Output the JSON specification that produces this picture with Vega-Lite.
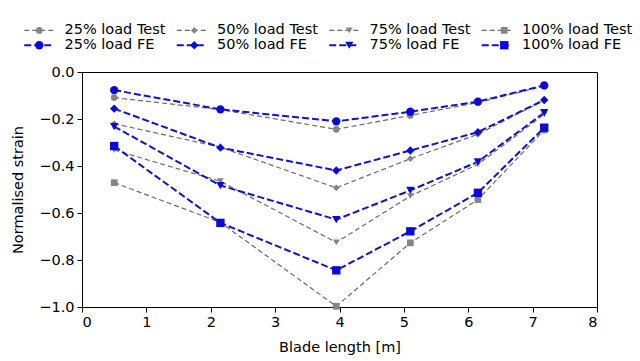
{
  "$schema": "https://vega.github.io/schema/vega-lite/v6.json",
  "width": 515,
  "height": 235,
  "autosize": {"type": "none"},
  "padding": {"left": 82, "top": 72, "right": 43, "bottom": 54},
  "background": "white",
  "config": {
    "font": "DejaVu Sans",
    "view": {"stroke": "black", "strokeWidth": 1},
    "axis": {
      "grid": false,
      "domainColor": "black",
      "tickColor": "black",
      "labelColor": "black",
      "titleColor": "black",
      "labelFontSize": 14.5,
      "titleFontSize": 14.5,
      "titleFontWeight": "normal",
      "tickSize": 5,
      "labelPadding": 3
    }
  },
  "data": {
    "values": [
      {"x": 0.5, "strain": -0.109, "series": "25% load Test", "code": "T25"},
      {"x": 2.15, "strain": -0.16, "series": "25% load Test", "code": "T25"},
      {"x": 3.95, "strain": -0.244, "series": "25% load Test", "code": "T25"},
      {"x": 5.1, "strain": -0.185, "series": "25% load Test", "code": "T25"},
      {"x": 6.15, "strain": -0.13, "series": "25% load Test", "code": "T25"},
      {"x": 7.18, "strain": -0.06, "series": "25% load Test", "code": "T25"},
      {"x": 0.5, "strain": -0.22, "series": "50% load Test", "code": "T50"},
      {"x": 2.15, "strain": -0.32, "series": "50% load Test", "code": "T50"},
      {"x": 3.95, "strain": -0.493, "series": "50% load Test", "code": "T50"},
      {"x": 5.1, "strain": -0.369, "series": "50% load Test", "code": "T50"},
      {"x": 6.15, "strain": -0.265, "series": "50% load Test", "code": "T50"},
      {"x": 7.18, "strain": -0.12, "series": "50% load Test", "code": "T50"},
      {"x": 0.5, "strain": -0.332, "series": "75% load Test", "code": "T75"},
      {"x": 2.15, "strain": -0.465, "series": "75% load Test", "code": "T75"},
      {"x": 3.95, "strain": -0.725, "series": "75% load Test", "code": "T75"},
      {"x": 5.1, "strain": -0.528, "series": "75% load Test", "code": "T75"},
      {"x": 6.15, "strain": -0.393, "series": "75% load Test", "code": "T75"},
      {"x": 7.18, "strain": -0.18, "series": "75% load Test", "code": "T75"},
      {"x": 0.5, "strain": -0.471, "series": "100% load Test", "code": "T100"},
      {"x": 2.15, "strain": -0.64, "series": "100% load Test", "code": "T100"},
      {"x": 3.95, "strain": -0.997, "series": "100% load Test", "code": "T100"},
      {"x": 5.1, "strain": -0.727, "series": "100% load Test", "code": "T100"},
      {"x": 6.15, "strain": -0.543, "series": "100% load Test", "code": "T100"},
      {"x": 7.18, "strain": -0.247, "series": "100% load Test", "code": "T100"},
      {"x": 0.5, "strain": -0.077, "series": "25% load FE", "code": "F25"},
      {"x": 2.15, "strain": -0.159, "series": "25% load FE", "code": "F25"},
      {"x": 3.95, "strain": -0.21, "series": "25% load FE", "code": "F25"},
      {"x": 5.1, "strain": -0.169, "series": "25% load FE", "code": "F25"},
      {"x": 6.15, "strain": -0.126, "series": "25% load FE", "code": "F25"},
      {"x": 7.18, "strain": -0.057, "series": "25% load FE", "code": "F25"},
      {"x": 0.5, "strain": -0.156, "series": "50% load FE", "code": "F50"},
      {"x": 2.15, "strain": -0.322, "series": "50% load FE", "code": "F50"},
      {"x": 3.95, "strain": -0.419, "series": "50% load FE", "code": "F50"},
      {"x": 5.1, "strain": -0.334, "series": "50% load FE", "code": "F50"},
      {"x": 6.15, "strain": -0.256, "series": "50% load FE", "code": "F50"},
      {"x": 7.18, "strain": -0.119, "series": "50% load FE", "code": "F50"},
      {"x": 0.5, "strain": -0.232, "series": "75% load FE", "code": "F75"},
      {"x": 2.15, "strain": -0.483, "series": "75% load FE", "code": "F75"},
      {"x": 3.95, "strain": -0.628, "series": "75% load FE", "code": "F75"},
      {"x": 5.1, "strain": -0.504, "series": "75% load FE", "code": "F75"},
      {"x": 6.15, "strain": -0.382, "series": "75% load FE", "code": "F75"},
      {"x": 7.18, "strain": -0.173, "series": "75% load FE", "code": "F75"},
      {"x": 0.5, "strain": -0.315, "series": "100% load FE", "code": "F100"},
      {"x": 2.15, "strain": -0.642, "series": "100% load FE", "code": "F100"},
      {"x": 3.95, "strain": -0.844, "series": "100% load FE", "code": "F100"},
      {"x": 5.1, "strain": -0.678, "series": "100% load FE", "code": "F100"},
      {"x": 6.15, "strain": -0.514, "series": "100% load FE", "code": "F100"},
      {"x": 7.18, "strain": -0.237, "series": "100% load FE", "code": "F100"}
    ]
  },
  "encoding": {
    "x": {
      "field": "x",
      "type": "quantitative",
      "scale": {"domain": [0, 8], "nice": false, "zero": false},
      "axis": {"values": [0, 1, 2, 3, 4, 5, 6, 7, 8], "format": "d", "title": "Blade length [m]", "titlePadding": 12}
    },
    "y": {
      "field": "strain",
      "type": "quantitative",
      "scale": {"domain": [-1, 0], "nice": false},
      "axis": {"values": [-1, -0.8, -0.6, -0.4, -0.2, 0], "format": ".1f", "title": "Normalised strain", "titlePadding": 13}
    }
  },
  "layer": [
    {
      "mark": {"type": "line"},
      "encoding": {
        "stroke": {
          "field": "series",
          "type": "nominal",
          "scale": {
            "domain": ["25% load Test", "50% load Test", "75% load Test", "100% load Test", "25% load FE", "50% load FE", "75% load FE", "100% load FE"],
            "range": ["#6a6a6a", "#6a6a6a", "#6a6a6a", "#6a6a6a", "#1212c8", "#1212c8", "#1212c8", "#1212c8"]
          },
          "legend": {
            "orient": "none",
            "direction": "horizontal",
            "legendX": -50,
            "legendY": -49,
            "columns": 4,
            "title": null,
            "symbolType": "M-3,0H3",
            "symbolSize": 100,
            "labelOffset": 18,
            "columnPadding": 6.5,
            "rowPadding": 0,
            "labelFontSize": 14.5,
            "labelColor": "black",
            "padding": 0
          }
        },
        "strokeDash": {
          "field": "series",
          "type": "nominal",
          "scale": {
            "domain": ["25% load Test", "50% load Test", "75% load Test", "100% load Test", "25% load FE", "50% load FE", "75% load FE", "100% load FE"],
            "range": [[5, 3], [5, 3], [5, 3], [5, 3], [7, 3], [7, 3], [7, 3], [7, 3]]
          }
        },
        "strokeWidth": {
          "field": "series",
          "type": "nominal",
          "scale": {
            "type": "ordinal",
            "domain": ["25% load Test", "50% load Test", "75% load Test", "100% load Test", "25% load FE", "50% load FE", "75% load FE", "100% load FE"],
            "range": [1.2, 1.2, 1.2, 1.2, 2, 2, 2, 2]
          }
        }
      }
    },
    {
      "mark": {"type": "point", "filled": true, "opacity": 1},
      "encoding": {
        "fill": {
          "field": "code",
          "type": "nominal",
          "scale": {
            "domain": ["T25", "T50", "T75", "T100", "F25", "F50", "F75", "F100"],
            "range": ["#858585", "#858585", "#858585", "#858585", "#0a0ad6", "#0a0ad6", "#0a0ad6", "#0a0ad6"]
          },
          "legend": {
            "orient": "none",
            "direction": "horizontal",
            "legendX": -50,
            "legendY": -49,
            "columns": 4,
            "title": null,
            "labelOffset": 24.6,
            "columnPadding": 14,
            "rowPadding": 0,
            "labelFontSize": 14.5,
            "labelOpacity": 0,
            "labelExpr": "{'T25': '25% load Test', 'T50': '50% load Test', 'T75': '75% load Test', 'T100': '100% load Test', 'F25': '25% load FE', 'F50': '50% load FE', 'F75': '75% load FE', 'F100': '100% load FE'}[datum.label]",
            "padding": 0
          }
        },
        "shape": {
          "field": "code",
          "type": "nominal",
          "scale": {
            "domain": ["T25", "T50", "T75", "T100", "F25", "F50", "F75", "F100"],
            "range": ["circle", "diamond", "triangle-down", "square", "circle", "diamond", "triangle-down", "square"]
          }
        },
        "size": {
          "field": "code",
          "type": "nominal",
          "scale": {
            "type": "ordinal",
            "domain": ["T25", "T50", "T75", "T100", "F25", "F50", "F75", "F100"],
            "range": [45, 45, 45, 45, 70, 70, 70, 70]
          }
        }
      }
    }
  ]
}
